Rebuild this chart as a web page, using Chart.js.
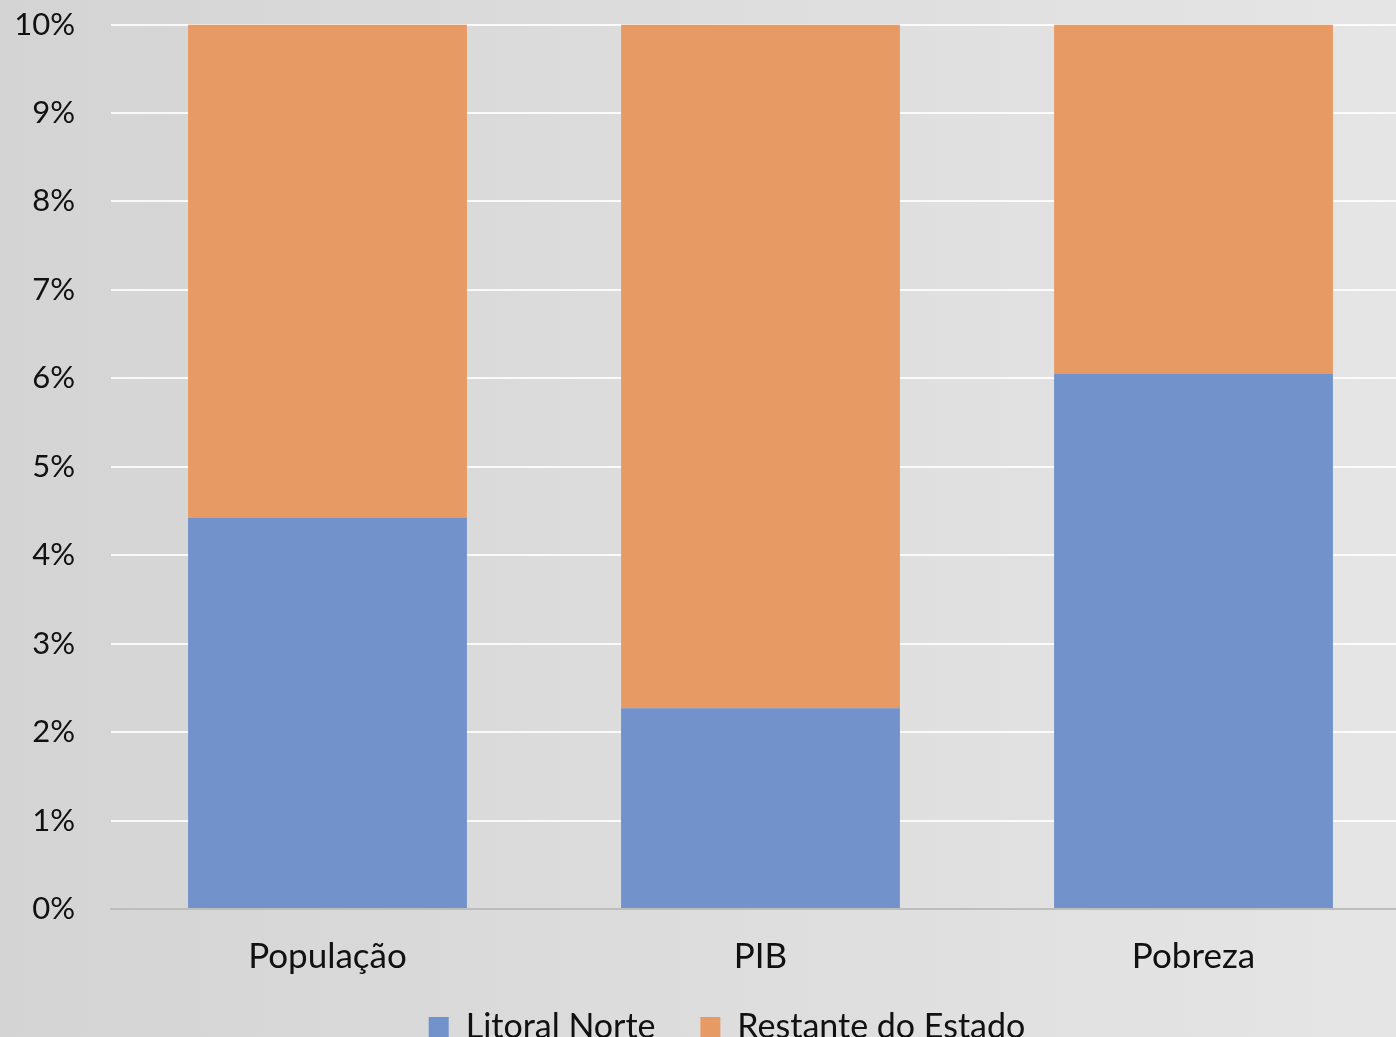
<!DOCTYPE html>
<html lang="pt">
<head>
<meta charset="utf-8">
<script src="https://cdn.jsdelivr.net/npm/chart.js@4"></script>
<style>
  html, body { margin:0; padding:0; overflow:hidden; }
  body {
    width:1396px; height:1037px;
    background: linear-gradient(90deg, #d4d4d4 0%, #dcdcdc 45%, #e5e5e5 100%);
  }
  #wrap { position:absolute; left:0; top:-30px; width:1420px; height:1084px; }
</style>
</head>
<body>
<div id="wrap"><canvas id="grafico"></canvas></div>
<script>
  const categorias = ['População', 'PIB', 'Pobreza'];
  const litoralNorte = [4.42, 2.27, 6.05];
  const restanteEstado = [5.58, 7.73, 3.95];
  const ticksY = [0, 1, 2, 3, 4, 5, 6, 7, 8, 9, 10];

  const fonte = 'Lato, "Open Sans", sans-serif';
  Chart.defaults.font.family = fonte;
  Chart.defaults.color = '#111';

  // afasta os itens da legenda e desloca o bloco um pouco para a direita
  const ajusteLegenda = {
    id: 'ajusteLegenda',
    afterUpdate(chart) {
      chart.legend.left += 22;
      chart.legend.right += 22;
    }
  };

  const ctx = document.getElementById('grafico').getContext('2d');
  new Chart(ctx, {
    type: 'bar',
    data: {
      labels: categorias,
      datasets: [
        { label: 'Litoral Norte', data: litoralNorte, backgroundColor: '#7192cb' },
        { label: 'Restante do Estado', data: restanteEstado, backgroundColor: '#e89a65' }
      ]
    },
    options: {
      responsive: true,
      maintainAspectRatio: false,
      animation: false,
      layout: { padding: { left: 0, right: 10, top: 23, bottom: 0 } },
      datasets: { bar: { barPercentage: 0.644, categoryPercentage: 1 } },
      scales: {
        x: {
          stacked: true,
          grid: { display: false, drawTicks: false },
          border: { color: '#bdbdbd', width: 2 },
          ticks: { padding: 27, font: { size: 35 } },
          afterFit: s => { s.height = 91; }
        },
        y: {
          stacked: true,
          min: 0, max: 10,
          afterBuildTicks: s => { s.ticks = ticksY.map(v => ({ value: v })); },
          grid: {
            drawTicks: false,
            lineWidth: 2,
            color: c => c.tick && c.tick.value === 0 ? 'rgba(0,0,0,0)' : 'rgba(255,255,255,0.85)'
          },
          border: { display: false },
          ticks: { padding: 36, font: { size: 31 }, callback: v => v + '%' },
          afterFit: s => { s.width = 111; }
        }
      },
      plugins: {
        legend: {
          position: 'bottom',
          labels: {
            boxWidth: 20, boxHeight: 20, padding: 10, font: { size: 34 },
            generateLabels: chart => {
              const itens = Chart.defaults.plugins.legend.labels.generateLabels(chart);
              itens[0].text = itens[0].text + '    ';
              return itens;
            }
          }
        },
        tooltip: { enabled: false }
      }
    },
    plugins: [ajusteLegenda]
  });
</script>
</body>
</html>
